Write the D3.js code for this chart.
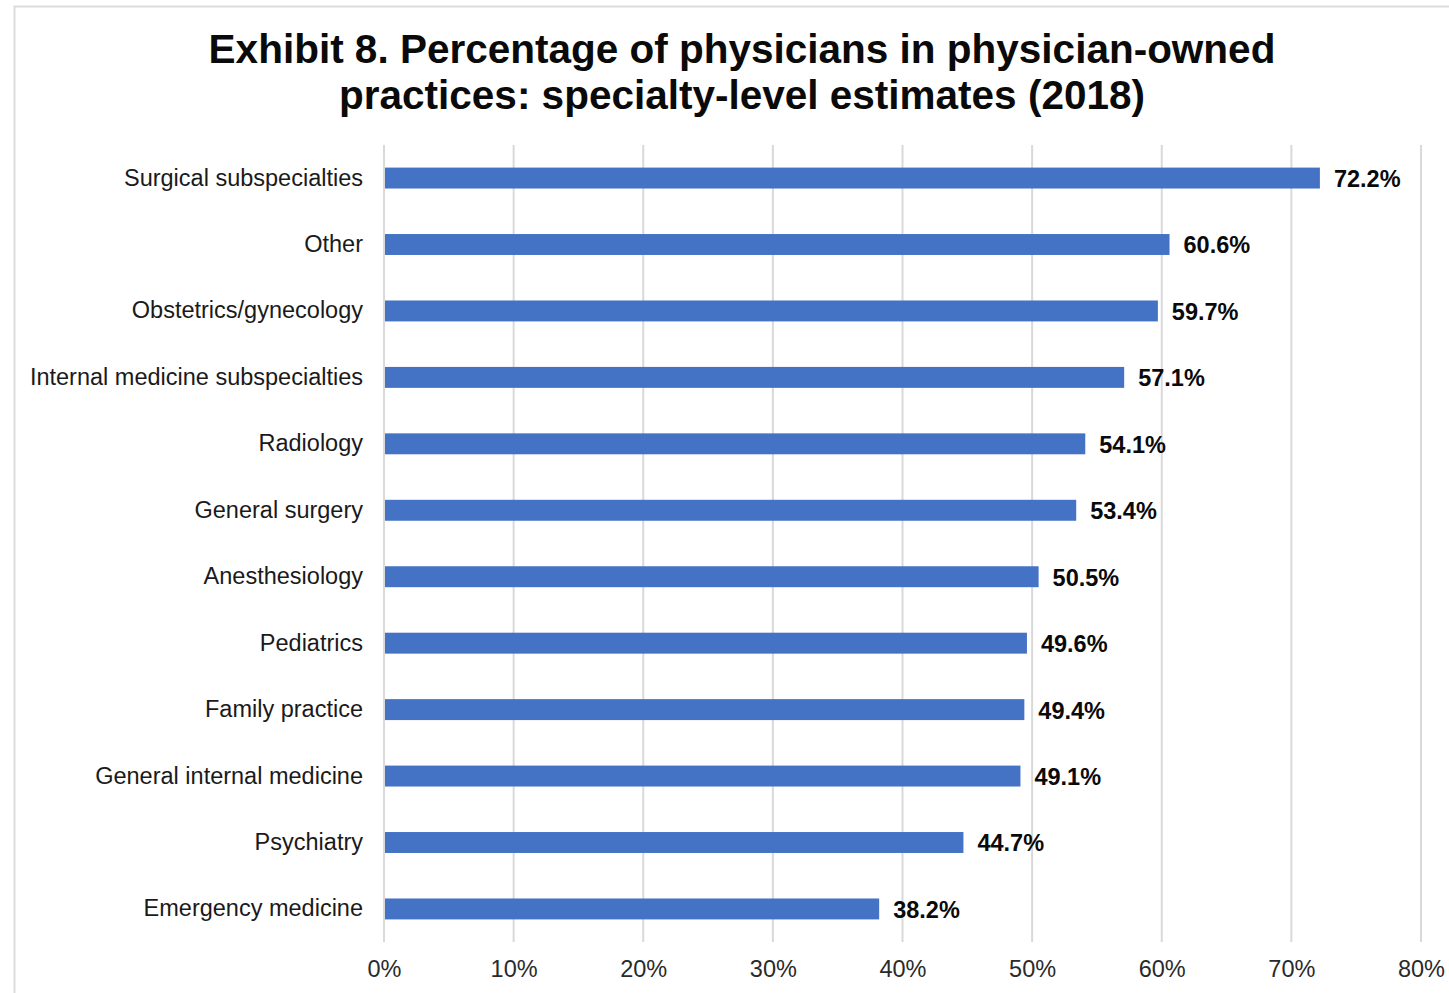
<!DOCTYPE html>
<html>
<head>
<meta charset="utf-8">
<script src="https://cdn.jsdelivr.net/npm/d3@7"></script>
<style>
  body { margin: 0; background: #fff; }
  svg text { font-family: "Liberation Sans", Arial, Helvetica, sans-serif; }
</style>
</head>
<body>
<div id="chart"></div>
<script>
const categories = [
  "Surgical subspecialties", "Other", "Obstetrics/gynecology",
  "Internal medicine subspecialties", "Radiology", "General surgery",
  "Anesthesiology", "Pediatrics", "Family practice",
  "General internal medicine", "Psychiatry", "Emergency medicine"
];
const values = [72.2, 60.6, 59.7, 57.1, 54.1, 53.4, 50.5, 49.6, 49.4, 49.1, 44.7, 38.2];
const tickValues = [0, 10, 20, 30, 40, 50, 60, 70, 80];
const titleLines = [
  "Exhibit 8. Percentage of physicians in physician-owned",
  "practices: specialty-level estimates (2018)"
];

const width = 1449, height = 993;
const margin = {top: 145, right: 28, bottom: 51, left: 384};

const data = categories.map((c, i) => ({name: c, value: values[i]}));

const svg = d3.select("#chart").append("svg")
  .attr("width", width)
  .attr("height", height);

// frame
svg.append("path")
  .attr("d", `M14.5,${height} L14.5,6.5 L${width},6.5`)
  .attr("fill", "none")
  .attr("stroke", "#dcdcdc")
  .attr("stroke-width", 2);

const x = d3.scaleLinear()
  .domain([0, 80])
  .range([margin.left, 1421]);

const y = d3.scaleBand()
  .domain(categories)
  .range([margin.top, height - margin.bottom])
  .paddingInner(0.685)
  .paddingOuter(0.34);

// title
svg.append("g").selectAll("text")
  .data(titleLines)
  .enter()
  .append("text")
  .attr("x", 742)
  .attr("y", (d, i) => 63 + i * 46)
  .attr("text-anchor", "middle")
  .attr("font-size", "40.5px")
  .attr("font-weight", "bold")
  .attr("fill", "#0a0a0a")
  .text(d => d);

// gridlines
svg.append("g").selectAll("line")
  .data(tickValues)
  .enter()
  .append("line")
  .attr("x1", d => x(d))
  .attr("x2", d => x(d))
  .attr("y1", margin.top)
  .attr("y2", height - margin.bottom)
  .attr("stroke", "#d9d9d9")
  .attr("stroke-width", 2);

// bars
svg.append("g").selectAll("rect")
  .data(data)
  .enter()
  .append("rect")
  .attr("x", x(0) + 1)
  .attr("y", d => y(d.name))
  .attr("width", d => x(d.value) - x(0) - 1)
  .attr("height", y.bandwidth())
  .attr("fill", "#4472c4");

// value labels
svg.append("g").selectAll("text")
  .data(data)
  .enter()
  .append("text")
  .attr("x", d => x(d.value) + 14)
  .attr("y", d => y(d.name) + y.bandwidth() / 2)
  .attr("dy", "0.38em")
  .attr("font-size", "23.5px")
  .attr("font-weight", "bold")
  .attr("fill", "#0a0a0a")
  .text(d => d.value.toFixed(1) + "%");

// y axis labels
const yAxis = svg.append("g")
  .attr("transform", `translate(${margin.left},0)`)
  .call(d3.axisLeft(y).tickSize(0).tickPadding(21));
yAxis.select(".domain").remove();
yAxis.selectAll("text")
  .attr("font-size", "23.5px")
  .attr("fill", "#1a1a1a")
  .style("font-family", "'Liberation Sans', Arial, sans-serif");

// x axis
const xAxis = svg.append("g")
  .attr("transform", `translate(0,${height - margin.bottom})`)
  .call(d3.axisBottom(x).tickValues(tickValues).tickSize(0).tickPadding(18)
    .tickFormat(d => d + "%"));
xAxis.select(".domain").remove();
xAxis.selectAll("text")
  .attr("font-size", "23.5px")
  .attr("fill", "#2a2a2a")
  .style("font-family", "'Liberation Sans', Arial, sans-serif");
</script>
</body>
</html>
